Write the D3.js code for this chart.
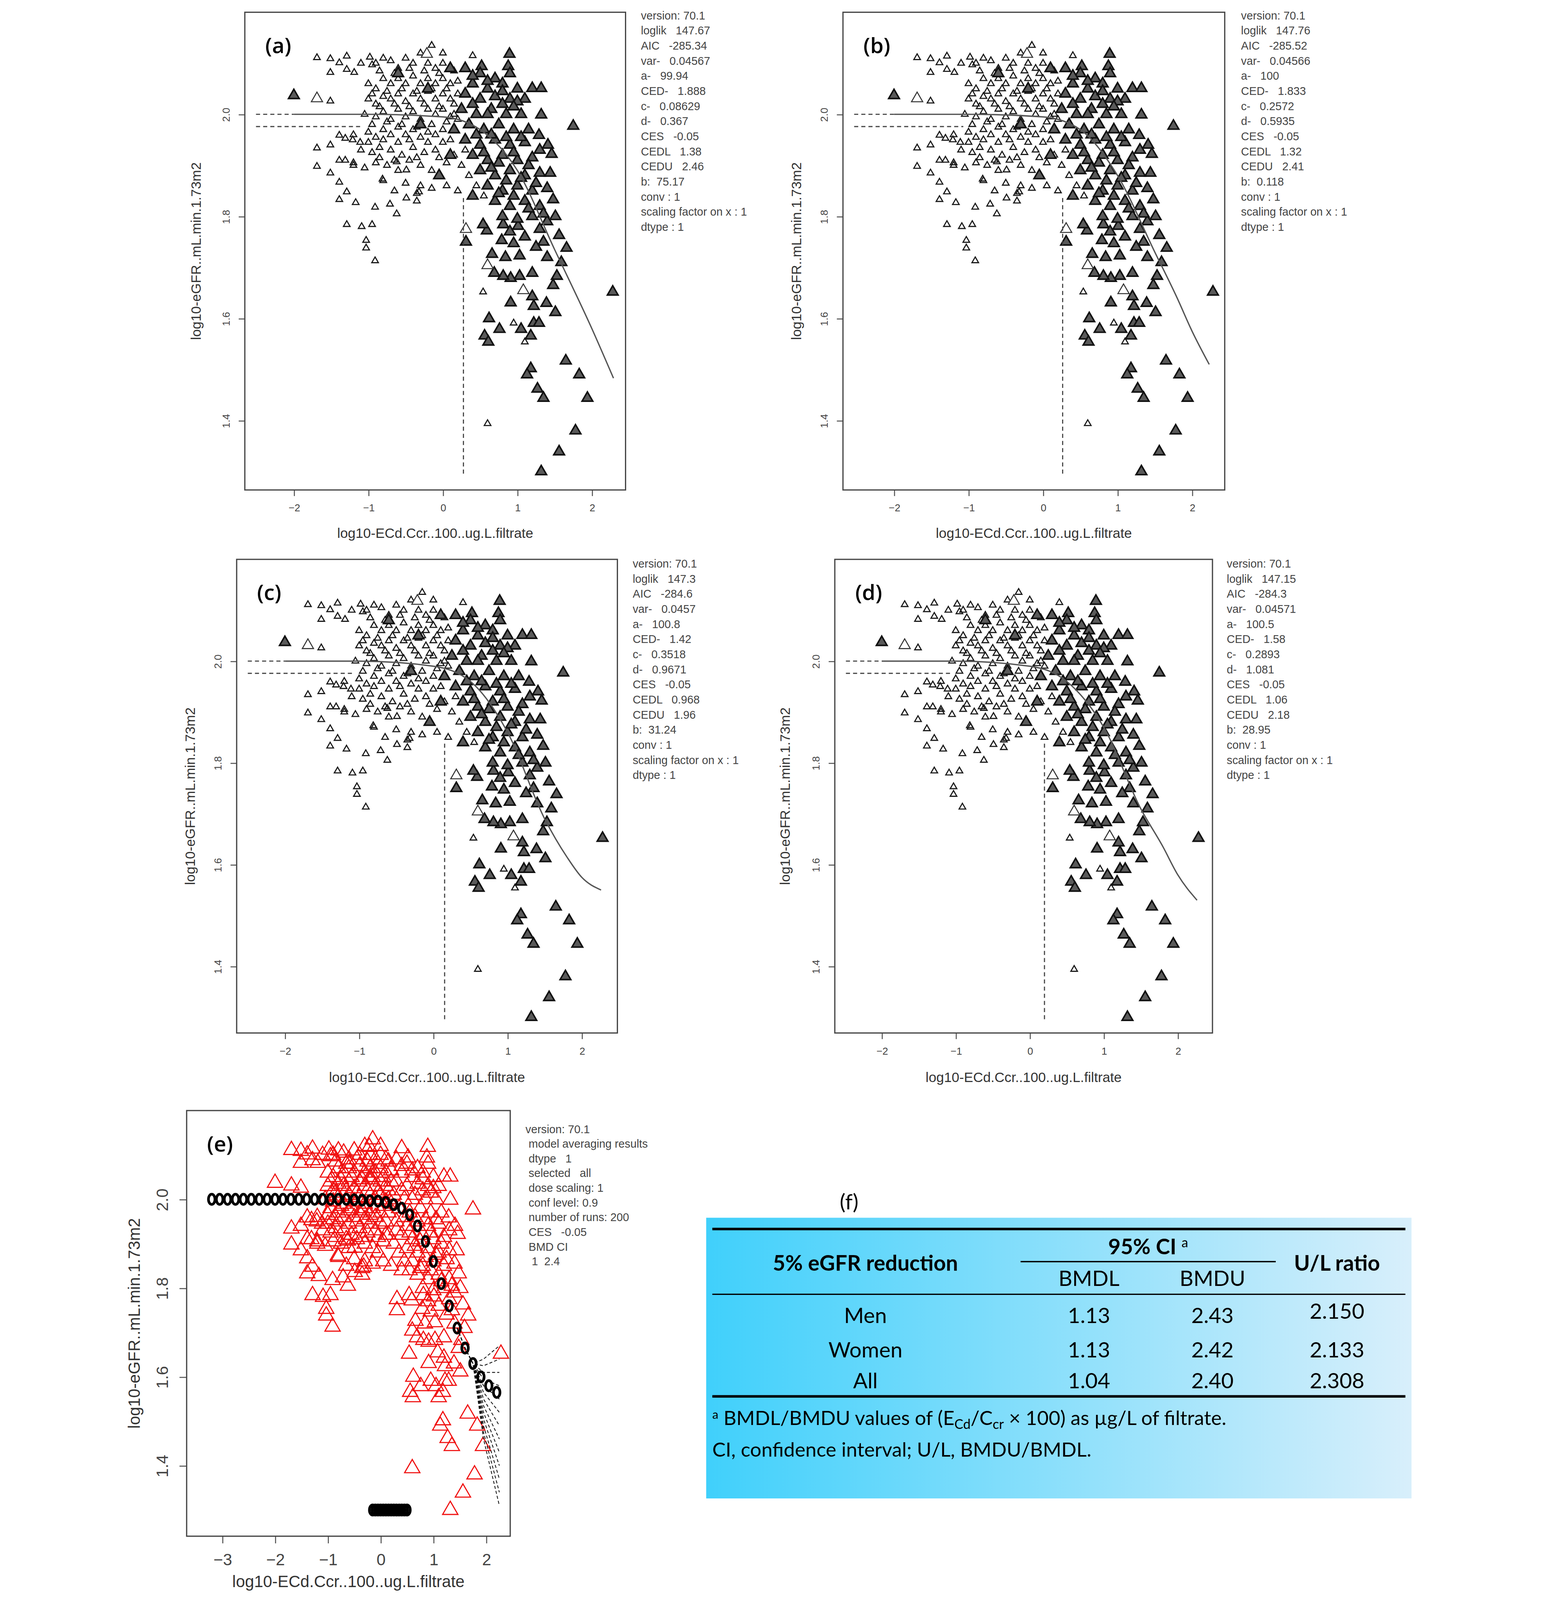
<!DOCTYPE html>
<html>
<head>
<meta charset="utf-8">
<script src="https://cdn.jsdelivr.net/npm/d3@7"></script>
<style>
  html, body { margin: 0; padding: 0; width: 100%; height: 100%; overflow: hidden; background: #fff; }
  svg { display: block; width: 100vw; height: 100vh; }
  text { font-family: "Liberation Sans", Arial, sans-serif; }
</style>
</head>
<body>
<script>
// observations: [log10 dose, log10 eGFR]
const obsSmall = [
  [-1.51,2.109],[-1.51,2.082],[-1.51,2.026],[-1.51,1.94],[-1.39,2.101],[-1.29,2.114],[-1.29,2.088],[-1.19,2.082],[-1.10,2.10],[-0.98,2.112],[-0.95,2.097],
  [-1.69,1.934],[-1.69,1.898],[-1.51,1.885],[-1.39,1.867],[-1.39,1.833],[-1.29,1.848],[-1.29,1.784],[-1.17,1.827],[-1.09,1.78],[-1.03,1.753],[-1.03,1.738],
  [-0.91,1.818],[-0.95,1.784],[-0.91,1.713],[-0.81,1.873],[-0.71,1.824],[-0.62,1.805],[-0.49,1.836],[-0.35,1.830],[-0.32,1.848],[-0.62,1.907],[-0.49,1.891],
  [-1.39,1.959],[-1.31,1.953],[-1.21,1.95],[-1.11,1.945],[-1.39,1.91],[-1.31,1.91],[-1.2,1.905],[-0.9,2.10],[-0.8,2.11],[-0.7,2.105],[-0.6,2.09],[-0.5,2.11],
  [-0.4,2.10],[-0.3,2.12],[-0.2,2.10],[-0.1,2.09],[0.0,2.10],[0.15,2.085],[-1.0,2.06],[-0.9,2.05],[-0.8,2.07],[-0.7,2.06],[-0.6,2.07],[-0.5,2.06],[-0.4,2.075],
  [-0.3,2.06],[-0.2,2.07],[-0.1,2.06],[0.0,2.07],[0.1,2.06],[0.2,2.065],[-1.0,2.03],[-0.9,2.02],[-0.8,2.035],[-0.7,2.03],[-0.6,2.04],[-0.5,2.025],[-0.4,2.04],
  [-0.3,2.03],[-0.2,2.045],[-0.1,2.03],[0.0,2.04],[0.1,2.03],[0.2,2.04],[-1.05,2.0],[-0.9,1.995],[-0.8,2.005],[-0.7,1.99],[-0.6,2.01],[-0.5,1.995],[-0.4,2.005],
  [-0.3,1.99],[-0.2,2.01],[-0.1,2.0],[0.0,2.01],[0.1,1.995],[-1.2,1.96],[-1.0,1.965],[-0.9,1.955],[-0.8,1.97],[-0.7,1.96],[-0.6,1.975],[-0.5,1.96],[-0.4,1.97],
  [-0.3,1.955],[-0.2,1.965],[-0.1,1.96],[0.0,1.97],[-1.1,1.93],[-0.95,1.925],[-0.85,1.935],[-0.7,1.93],[-0.55,1.92],[-0.4,1.935],[-0.25,1.925],[-0.1,1.93],
  [-1.2,1.90],[-1.05,1.895],[-0.9,1.905],[-0.75,1.90],[-0.6,1.89],[-0.45,1.91],[-0.3,1.90],[-0.15,1.89],[0.05,1.905],[-0.8,1.87],[-0.5,1.865],[-0.3,1.86],
  [-0.15,1.855],[0.05,1.86],[0.2,1.85],[-0.65,1.85],[-0.35,1.845],[0.15,2.02],[0.2,1.99],[0.3,1.93],[0.1,1.95],[0.35,1.88],[0.25,1.90],[0.45,1.86],[0.55,1.84],
  [0.0,2.12],[-0.15,2.135],[0.54,1.652],[0.95,1.591],[1.10,1.554],[0.60,1.394],[0.4,2.115],[-1.69,2.111],
  [-0.85,2.085],[-0.65,2.08],[-0.45,2.09],[-0.25,2.085],[-0.05,2.08],[0.05,2.05],[-0.15,2.05],[-0.35,2.045],[-0.55,2.05],[-0.75,2.045],[-0.95,2.04],
  [-0.85,2.015],[-0.65,2.02],[-0.45,2.015],[-0.25,2.02],[-0.05,2.015],[0.15,2.0],[-0.95,1.98],[-0.75,1.985],[-0.55,1.98],[-0.35,1.975],[-0.15,1.98],[0.05,1.985],
  [-1.0,1.945],[-0.8,1.95],[-0.6,1.945],[-0.45,1.95],[-0.2,1.945],[0.0,1.945],[-0.85,1.915],[-0.65,1.91],[-0.35,1.915],[-0.05,1.915],[0.15,1.92]
];
const obsLarge = [
  [-2.0,2.037],[0.894,2.118],[0.877,2.094],[0.52,2.094],[1.20,2.051],[1.32,2.051],[1.32,1.999],[1.75,1.977],[1.29,1.959],[1.41,1.94],[1.46,1.922],[1.44,1.885],
  [1.48,1.833],[1.51,1.80],[1.56,1.763],[1.66,1.738],[1.59,1.71],[1.53,1.683],[1.48,1.665],[2.28,1.652],[1.51,1.612],[1.39,1.630],[1.22,1.624],[1.20,1.643],
  [0.91,1.631],[1.03,1.683],[1.20,1.689],[0.91,1.679],[0.81,1.683],[0.69,1.689],[0.66,1.726],[0.84,1.72],[1.03,1.723],[0.95,1.747],[0.79,1.753],[1.35,1.75],
  [1.30,1.775],[1.01,1.781],[0.81,1.784],[0.59,1.772],[0.54,1.784],[0.31,1.75],[0.62,1.60],[0.76,1.579],[0.56,1.566],[0.61,1.554],[1.05,1.579],[1.18,1.566],
  [1.22,1.591],[1.29,1.591],[1.18,1.502],[1.13,1.49],[1.27,1.462],[1.35,1.444],[1.65,1.517],[1.83,1.49],[1.94,1.444],[1.78,1.38],[1.56,1.339],[1.32,1.30],
  [0.3,2.09],[0.5,2.08],[0.7,2.07],[0.9,2.08],[0.4,2.06],[0.6,2.05],[0.8,2.06],[1.0,2.05],[0.3,2.04],[0.5,2.03],[0.7,2.035],[0.9,2.03],[1.1,2.03],
  [0.25,2.01],[0.45,2.0],[0.65,2.01],[0.85,2.0],[1.05,2.0],[0.35,1.98],[0.55,1.97],[0.75,1.98],[0.95,1.97],[1.15,1.97],[0.3,1.95],[0.5,1.94],[0.7,1.95],
  [0.9,1.94],[1.1,1.945],[1.3,1.93],[0.4,1.92],[0.6,1.91],[0.8,1.92],[1.0,1.91],[1.2,1.915],[0.5,1.89],[0.7,1.88],[0.9,1.89],[1.1,1.88],[1.3,1.885],
  [0.6,1.86],[0.8,1.85],[1.0,1.86],[1.2,1.85],[1.4,1.855],[0.7,1.83],[0.9,1.82],[1.1,1.83],[1.3,1.82],[0.8,1.80],[1.0,1.795],[1.2,1.80],[1.4,1.79],
  [-0.6,2.08],[-0.2,2.05],[0.1,2.09],[-0.3,1.98],[0.15,1.97],[0.1,1.92],[-0.05,1.88],[0.4,1.84],
  [0.4,2.075],[0.6,2.065],[0.8,2.045],[1.0,2.025],[0.4,2.02],[0.6,2.0],[0.8,2.02],[0.95,2.015],[0.45,1.96],[0.65,1.96],[0.85,1.955],[1.05,1.955],
  [0.55,1.925],[0.75,1.905],[0.95,1.925],[1.15,1.9],[0.65,1.895],[0.85,1.87],[1.05,1.875],[1.25,1.865],[0.75,1.845],[0.95,1.84],[1.15,1.815],[1.35,1.805],
  [0.9,1.77],[1.1,1.76],[1.25,1.74],[1.4,1.72]
];
const obsOpen = [[-1.69,2.031],[-0.215,2.118],[0.60,1.704],[1.08,1.655],[0.31,1.775]];

// fitted curves
const curveA = { x: [-2, -1, 0, 0.5, 1, 1.5, 2, 2.29], y: [2.0, 2.0, 1.995, 1.97, 1.89, 1.735, 1.58, 1.483] };
const curveB = { x: [-2, -1, 0, 0.5, 1, 1.5, 1.8, 2.0, 2.23], y: [2.0, 2.0, 1.995, 1.97, 1.88, 1.73, 1.64, 1.575, 1.51] };
const curveC = { x: [-2, -1, 0, 0.5, 1, 1.5, 1.8, 2.0, 2.26], y: [2.0, 2.0, 1.99, 1.96, 1.86, 1.69, 1.615, 1.575, 1.55] };
const curveD = { x: [-2, -1, 0, 0.5, 1, 1.5, 1.8, 2.0, 2.26], y: [2.0, 2.0, 1.99, 1.96, 1.87, 1.71, 1.635, 1.58, 1.53] };
const cedValues = [0.276, 0.263, 0.152, 0.199];

const infoA = ["version: 70.1","loglik   147.67","AIC   -285.34","var-   0.04567","a-   99.94","CED-   1.888","c-   0.08629","d-   0.367","CES   -0.05","CEDL   1.38","CEDU   2.46","b:  75.17","conv : 1","scaling factor on x : 1","dtype : 1"];
const infoB = ["version: 70.1","loglik   147.76","AIC   -285.52","var-   0.04566","a-   100","CED-   1.833","c-   0.2572","d-   0.5935","CES   -0.05","CEDL   1.32","CEDU   2.41","b:  0.118","conv : 1","scaling factor on x : 1","dtype : 1"];
const infoC = ["version: 70.1","loglik   147.3","AIC   -284.6","var-   0.0457","a-   100.8","CED-   1.42","c-   0.3518","d-   0.9671","CES   -0.05","CEDL   0.968","CEDU   1.96","b:  31.24","conv : 1","scaling factor on x : 1","dtype : 1"];
const infoD = ["version: 70.1","loglik   147.15","AIC   -284.3","var-   0.04571","a-   100.5","CED-   1.58","c-   0.2893","d-   1.081","CES   -0.05","CEDL   1.06","CEDU   2.18","b:  28.95","conv : 1","scaling factor on x : 1","dtype : 1"];
const infoE = ["version: 70.1"," model averaging results"," dtype   1"," selected   all"," dose scaling: 1"," conf level: 0.9"," number of runs: 200"," CES   -0.05"," BMD CI","  1  2.4"];

// model averaging panel (e)
const avgX = [-3.2,-3.05,-2.9,-2.75,-2.6,-2.45,-2.3,-2.15,-2.0,-1.85,-1.7,-1.55,-1.4,-1.25,-1.1,-0.95,-0.8,-0.65,-0.5,-0.35,-0.2,-0.05,0.1,0.25,0.4,0.55,0.7,0.85,1.0,1.15,1.3,1.45,1.6,1.75,1.9,2.05,2.2];
const avgY = [2.0,2.0,2.0,2.0,2.0,2.0,2.0,2.0,2.0,2.0,2.0,2.0,2.0,2.0,2.0,2.0,2.0,2.0,1.999,1.998,1.997,1.996,1.993,1.988,1.98,1.965,1.94,1.905,1.86,1.81,1.76,1.71,1.665,1.63,1.60,1.58,1.565];
const fanMid = [1.64,1.625,1.61,1.595,1.58,1.565,1.55,1.535,1.52,1.505,1.49,1.475,1.46];
const fanEnd = [1.67,1.64,1.61,1.58,1.55,1.52,1.49,1.46,1.43,1.40,1.37,1.34,1.31];
const bmdX = [-0.15,-0.1,-0.05,0,0.05,0.1,0.15,0.2,0.25,0.3,0.35,0.4,0.45,0.5];

// table (f)
const tableRows = ["Men", "Women", "All"];
const bmdl = ["1.13", "1.13", "1.04"];
const bmdu = ["2.43", "2.42", "2.40"];
const ulRatio = ["2.150", "2.133", "2.308"];

const svg = d3.select("body").append("svg")
  .attr("viewBox", "0 0 1280 1567.5")
  .attr("preserveAspectRatio", "xMidYMid meet");
svg.append("rect").attr("width", 1280).attr("height", 1567.5).attr("fill", "#fff");

const tri = (side) => d3.symbol(d3.symbolTriangle, Math.sqrt(3) / 4 * side * side)();

function panel(p) {
  const g = svg.append("g");
  const x = d3.scaleLinear().domain(p.xd).range([p.x0, p.x1]);
  const y = d3.scaleLinear().domain(p.yd).range([p.y1, p.y0]);

  const ax = g.append("g").attr("transform", `translate(0,${p.y1})`)
    .call(d3.axisBottom(x).tickValues(p.xt).tickFormat(d3.format("d")).tickSize(p.tick).tickPadding(p.pad));
  const ay = g.append("g").attr("transform", `translate(${p.x0},0)`)
    .call(d3.axisLeft(y).tickValues([1.4, 1.6, 1.8, 2.0]).tickFormat(d3.format(".1f")).tickSize(p.tick).tickPadding(p.pad));
  [ax, ay].forEach(a => {
    a.select(".domain").remove();
    a.selectAll("line").attr("stroke", "#555");
    a.selectAll("text").attr("fill", "#444").style("font-size", p.fs + "px").style("font-family", "Liberation Sans, Arial");
  });
  ay.selectAll("text").attr("text-anchor", "middle").attr("dy", "0.32em")
    .attr("x", -p.tick - p.pad - p.fs * 0.4)
    .attr("transform", `rotate(-90, ${-p.tick - p.pad - p.fs * 0.4}, 0)`);

  if (p.red) {
    const obs = obsSmall.concat(obsLarge, obsOpen);
    g.selectAll(".obs").data(obs).join("path")
      .attr("d", tri(15)).attr("transform", d => `translate(${x(d[0])},${y(d[1])})`)
      .attr("fill", "none").attr("stroke", "#f01010").attr("stroke-width", 1.1);
    const line = d3.line().x(d => x(d[0])).y(d => y(d[1]));
    fanEnd.forEach((e, i) => {
      g.append("path").attr("d", line([[1.45, 1.71], [1.6, 1.665], [1.75, 1.63], [1.95, fanMid[i]], [2.25, e]]))
        .attr("fill", "none").attr("stroke", "#111").attr("stroke-width", 0.8).attr("stroke-dasharray", "3,2");
    });
    g.selectAll(".avg").data(avgX).join("ellipse")
      .attr("cx", d => x(d)).attr("cy", (d, i) => y(avgY[i])).attr("rx", 3.2).attr("ry", 5)
      .attr("fill", "none").attr("stroke", "#000").attr("stroke-width", 2.6);
    g.selectAll(".bmd").data(bmdX).join("ellipse")
      .attr("cx", d => x(d)).attr("cy", y(1.30)).attr("rx", 3.2).attr("ry", 5)
      .attr("fill", "none").attr("stroke", "#000").attr("stroke-width", 2.6);
  } else {
    g.selectAll(".s").data(obsSmall).join("path")
      .attr("d", tri(6.5)).attr("transform", d => `translate(${x(d[0])},${y(d[1])})`)
      .attr("fill", "none").attr("stroke", "#1a1a1a").attr("stroke-width", 1.1);
    g.selectAll(".l").data(obsLarge).join("path")
      .attr("d", tri(10.5)).attr("transform", d => `translate(${x(d[0])},${y(d[1])})`)
      .attr("fill", "#5a5a5a").attr("stroke", "#111").attr("stroke-width", 1.5);
    g.selectAll(".o").data(obsOpen).join("path")
      .attr("d", tri(11)).attr("transform", d => `translate(${x(d[0])},${y(d[1])})`)
      .attr("fill", "#fff").attr("stroke", "#333").attr("stroke-width", 1);

    const pts = p.curve.x.map((v, i) => [v, p.curve.y[i]]);
    g.append("path").attr("d", d3.line().curve(d3.curveMonotoneX).x(d => x(d[0])).y(d => y(d[1]))(pts))
      .attr("fill", "none").attr("stroke", "#555").attr("stroke-width", 1.3);
    const dash = (x1, y1, x2, y2) => g.append("line").attr("x1", x(x1)).attr("y1", y(y1)).attr("x2", x(x2)).attr("y2", y(y2))
      .attr("stroke", "#444").attr("stroke-width", 1.1).attr("stroke-dasharray", "4,3");
    dash(p.xd[0] + 0.15, 2.0, -2.0, 2.0);
    dash(p.xd[0] + 0.15, 1.976, -1.07, 1.976);
    dash(p.ced, 1.296, p.ced, 1.84);
  }

  g.append("rect").attr("x", p.x0).attr("y", p.y0).attr("width", p.x1 - p.x0).attr("height", p.y1 - p.y0)
    .attr("fill", "none").attr("stroke", "#444").attr("stroke-width", 1.2);

  g.append("text").attr("x", (p.x0 + p.x1) / 2).attr("y", p.xlabY).attr("text-anchor", "middle")
    .attr("fill", "#333").style("font-size", p.lfs + "px").text("log10-ECd.Ccr..100..ug.L.filtrate");
  g.append("text").attr("transform", `translate(${p.ylabX},${(p.y0 + p.y1) / 2}) rotate(-90)`).attr("text-anchor", "middle")
    .attr("fill", "#333").style("font-size", p.lfs + "px").text("log10-eGFR..mL.min.1.73m2");
  g.append("text").attr("x", p.x0 + 20).attr("y", p.y0 + 40).style("font-family", "Open Sans, sans-serif")
    .style("font-size", "21px").style("font-weight", 600).attr("fill", "#000").text(p.label);

  g.selectAll(".info").data(p.info).join("text")
    .attr("x", p.ix).attr("y", (d, i) => p.iy + i * p.ist).attr("fill", "#444")
    .style("font-size", p.ifs + "px").style("white-space", "pre").attr("xml:space", "preserve").text(d => d);
}

const base = { yd: [1.264, 2.2], xt: [-2, -1, 0, 1, 2], tick: 6, pad: 8, fs: 10, lfs: 13.5, ifs: 11, ist: 14.8 };
panel({ ...base, x0: 125, x1: 498, y0: 12, y1: 480, xd: [-2.658, 2.452], curve: curveA, ced: cedValues[0], xlabY: 527, ylabX: 82, label: "(a)", info: infoA, ix: 513, iy: 19 });
panel({ ...base, x0: 711, x1: 1085, y0: 12, y1: 480, xd: [-2.685, 2.438], curve: curveB, ced: cedValues[1], xlabY: 527, ylabX: 670, label: "(b)", info: infoB, ix: 1101, iy: 19 });
panel({ ...base, x0: 117, x1: 490, y0: 548, y1: 1012, xd: [-2.65, 2.48], yd: [1.269, 2.2], curve: curveC, ced: cedValues[2], xlabY: 1060, ylabX: 76, label: "(c)", info: infoC, ix: 505, iy: 556 });
panel({ ...base, x0: 703, x1: 1073, y0: 548, y1: 1012, xd: [-2.634, 2.469], yd: [1.269, 2.2], curve: curveD, ced: cedValues[3], xlabY: 1060, ylabX: 659, label: "(d)", info: infoD, ix: 1087, iy: 556 });
panel({ x0: 68, x1: 385, y0: 1088, y1: 1505, xd: [-3.675, 2.456], yd: [1.241, 2.2], xt: [-3, -2, -1, 0, 1, 2], tick: 7, pad: 10,
  fs: 16, lfs: 16, ist: 14.4, ifs: 11, red: true, xlabY: 1555, ylabX: 22, label: "(e)", info: infoE, ix: 400, iy: 1110 });

// table (f)
const grad = svg.append("defs").append("linearGradient").attr("id", "tg");
grad.append("stop").attr("offset", "0%").attr("stop-color", "#40d0fb");
grad.append("stop").attr("offset", "100%").attr("stop-color", "#d8effb");
const tf = "Lato, 'Open Sans', sans-serif";
svg.append("text").attr("x", 717).attr("y", 1185).attr("text-anchor", "middle").style("font-family", tf).style("font-size", "21px").text("(f)");
svg.append("rect").attr("x", 577).attr("y", 1193).attr("width", 691).attr("height", 275).attr("fill", "url(#tg)");
const hl = (x1, x2, yy, w) => svg.append("line").attr("x1", x1).attr("x2", x2).attr("y1", yy).attr("y2", yy).attr("stroke", "#000").attr("stroke-width", w);
hl(583, 1262, 1204, 2.5); hl(885, 1135, 1236, 1.3); hl(583, 1262, 1268, 1.3); hl(583, 1262, 1368, 2.5);
const tt = (x, yy, s, opts = {}) => svg.append("text").attr("x", x).attr("y", yy).attr("text-anchor", opts.anchor || "middle")
  .style("font-family", tf).style("font-size", (opts.fs || 21) + "px").style("font-weight", opts.bold ? 700 : 400).attr("fill", "#000").text(s);
tt(733, 1245, "5% eGFR reduction", { bold: true });
const ci = tt(1010, 1229, "95% CI ", { bold: true });
ci.append("tspan").attr("dy", -7).style("font-size", "13px").style("font-weight", 400).text("a");
tt(952, 1260, "BMDL"); tt(1073, 1260, "BMDU");
tt(1195, 1245, "U/L ratio", { bold: true });
const rowY = [1296, 1330, 1360];
tableRows.forEach((r, i) => {
  tt(733, rowY[i], r); tt(952, rowY[i], bmdl[i]); tt(1073, rowY[i], bmdu[i]);
  tt(1195, rowY[i] - (i === 0 ? 4 : 0), ulRatio[i]);
});
const fn = svg.append("text").attr("x", 583).attr("y", 1396).style("font-family", tf).style("font-size", "19.5px");
fn.append("tspan").attr("dy", -6).style("font-size", "12px").text("a");
fn.append("tspan").attr("dy", 6).text(" BMDL/BMDU values of (E");
fn.append("tspan").attr("dy", 4).style("font-size", "13px").text("Cd");
fn.append("tspan").attr("dy", -4).text("/C");
fn.append("tspan").attr("dy", 4).style("font-size", "13px").text("cr");
fn.append("tspan").attr("dy", -4).text(" \u00d7 100) as \u00b5g/L of filtrate.");
svg.append("text").attr("x", 583).attr("y", 1427).style("font-family", tf).style("font-size", "19.5px").text("CI, confidence interval; U/L, BMDU/BMDL.");
</script>
</body>
</html>
